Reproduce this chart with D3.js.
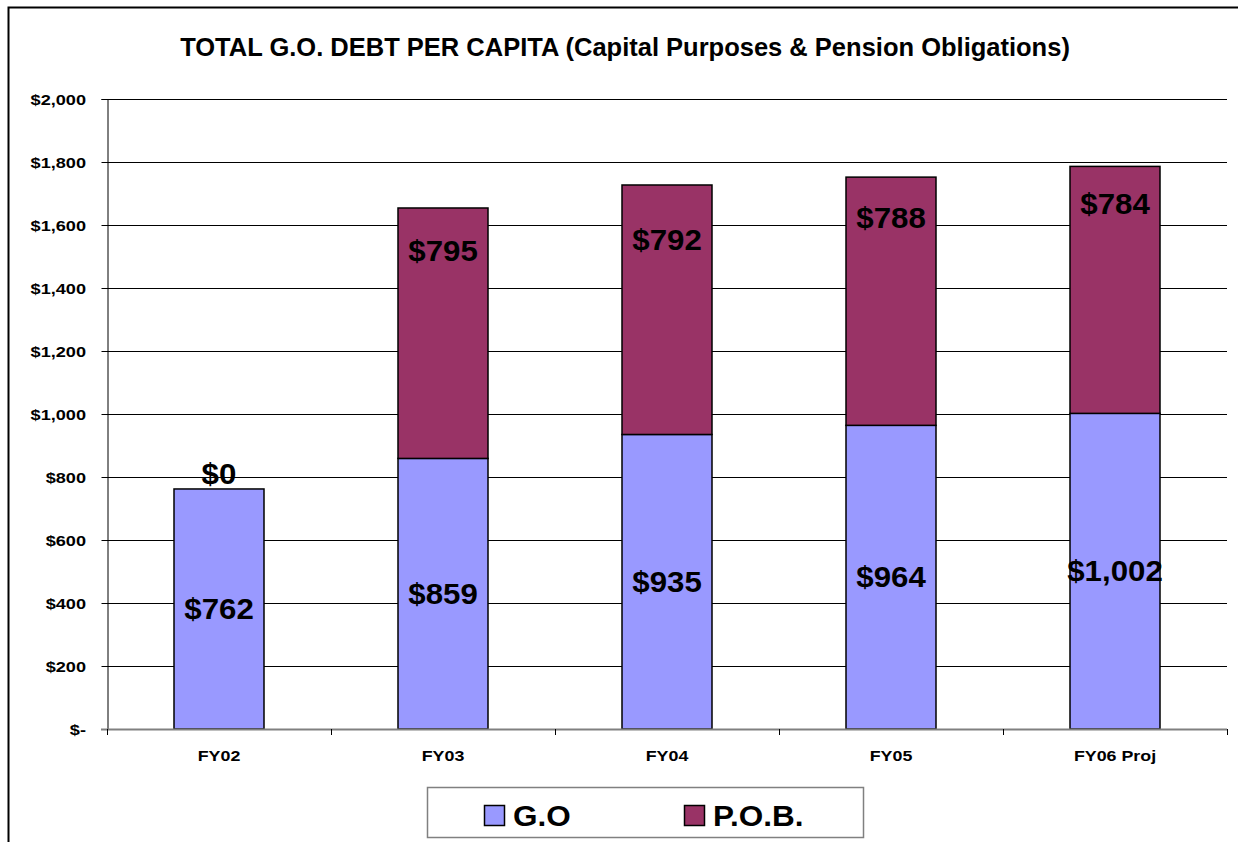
<!DOCTYPE html>
<html><head><meta charset="utf-8">
<script src="https://cdn.jsdelivr.net/npm/d3@7"></script>
<style>body{margin:0;background:#fff}svg{display:block;font-family:Arial,"Liberation Sans",sans-serif}</style>
</head><body>
<svg id="c" width="1238" height="842"></svg>
<script>
const categories = ["FY02","FY03","FY04","FY05","FY06 Proj"];
const goValues = [762, 859, 935, 964, 1002];
const pobValues = [0, 795, 792, 788, 784];
const seriesNames = ["G.O", "P.O.B."];
const yTicks = [0,200,400,600,800,1000,1200,1400,1600,1800,2000];
const titleText = "TOTAL G.O. DEBT PER CAPITA (Capital Purposes & Pension Obligations)";

const colors = ["#9999FF", "#993366"];
const svg = d3.select("#c");
const m = {l:107, r:1227, t:99, b:729};
// manual label placement tweaks (pixels), as in the original
const pobLabelNudge = [0, 0, 12, -2, -5];

function stext(sel, x, y, str, size, sx, anchor) {
  return sel.append("text")
    .attr("transform", `translate(${x},${y}) scale(${sx},1)`)
    .attr("text-anchor", anchor || "middle")
    .attr("font-size", size).attr("font-weight", "bold").attr("fill", "#000")
    .text(str);
}

svg.append("rect").attr("x",8.5).attr("y",7.5).attr("width",1300).attr("height",1000)
  .attr("fill","none").attr("stroke","#000").attr("stroke-width",2);

stext(svg, 625, 56, titleText, 25.5, 1, "middle");

const x = d3.scaleBand().domain(categories).range([m.l, m.r]).paddingInner(0).paddingOuter(0);
const y = d3.scaleLinear().domain([0,2000]).range([m.b, m.t]);
const fmt = v => v === 0 ? "$-" : "$" + d3.format(",")(v);

// gridlines
svg.append("g").selectAll("line").data(yTicks.filter(d=>d>0)).join("line")
  .attr("x1",m.l).attr("x2",m.r).attr("y1",d=>y(d)+0.5).attr("y2",d=>y(d)+0.5)
  .attr("stroke","#000").attr("stroke-width",1);

// y axis
const ya = svg.append("g").attr("transform",`translate(${m.l+0.5},0)`)
  .call(d3.axisLeft(y).tickValues(yTicks).tickFormat("").tickSize(6));
ya.select(".domain").attr("stroke","#000");
ya.selectAll(".tick line").attr("stroke","#000");
const yl = svg.append("g");
yTicks.forEach(t => stext(yl, 86, y(t) + 6, fmt(t), 15.5, 1.17, "end"));

// bars
const stack = categories.map((c,i)=>({c, i, go:goValues[i], pob:pobValues[i]}));
const bw = 90;
const g = svg.append("g");
g.selectAll("rect.go").data(stack).join("rect").attr("class","go")
  .attr("x",d=>x(d.c)+x.bandwidth()/2-bw/2).attr("width",bw)
  .attr("y",d=>y(d.go)).attr("height",d=>y(0)-y(d.go))
  .attr("fill",colors[0]).attr("stroke","#000").attr("stroke-width",1.5);
g.selectAll("rect.pob").data(stack.filter(d=>d.pob>0)).join("rect").attr("class","pob")
  .attr("x",d=>x(d.c)+x.bandwidth()/2-bw/2).attr("width",bw)
  .attr("y",d=>y(d.go+d.pob)).attr("height",d=>y(d.go)-y(d.go+d.pob))
  .attr("fill",colors[1]).attr("stroke","#000").attr("stroke-width",1.5);

// x axis
svg.append("line").attr("x1",m.l-6).attr("x2",m.r).attr("y1",m.b+0.5).attr("y2",m.b+0.5)
  .attr("stroke","#808080").attr("stroke-width",2);
svg.append("g").selectAll("line").data(d3.range(categories.length+1)).join("line")
  .attr("x1",i=>m.l+0.5+i*x.bandwidth()).attr("x2",i=>m.l+0.5+i*x.bandwidth())
  .attr("y1",m.b).attr("y2",m.b+6).attr("stroke","#000");
const xl = svg.append("g");
categories.forEach(c => stext(xl, x(c)+x.bandwidth()/2, 761, c, 15.5, 1.15, "middle"));

// labels
const lab = svg.append("g");
stack.forEach(d => {
  const cx = x(d.c)+x.bandwidth()/2;
  stext(lab, cx, y(d.go/2)+10, "$"+d3.format(",")(d.go), 29.5, 1.06, "middle");
  const py = d.pob>0 ? y(d.go+d.pob)+43+10+pobLabelNudge[d.i] : y(d.go)-15+10;
  stext(lab, cx, py, "$"+d3.format(",")(d.pob), 29.5, 1.06, "middle");
});

// legend
const lg = svg.append("g");
lg.append("rect").attr("x",427.5).attr("y",787.5).attr("width",436).attr("height",50)
  .attr("fill","#fff").attr("stroke","#808080").attr("stroke-width",1.5);
const lx = [484, 684];
seriesNames.forEach((n,i)=>{
  lg.append("rect").attr("x",lx[i]+0.5).attr("y",805.5).attr("width",20).attr("height",20)
    .attr("fill",colors[i]).attr("stroke","#000").attr("stroke-width",1.5);
  stext(lg, lx[i]+29, 826, n, 30, 1.05, "start");
});
</script>
</body></html>
